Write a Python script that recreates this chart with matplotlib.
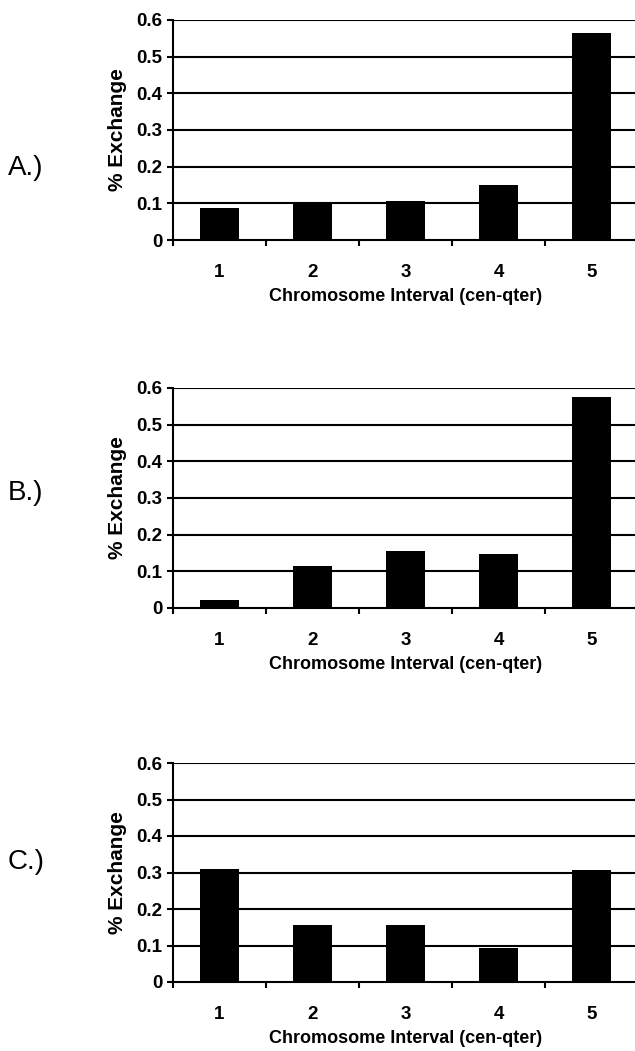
import numpy as np
import matplotlib
matplotlib.use("Agg")
import matplotlib.pyplot as plt

plt.rcParams['font.family'] = ['Liberation Sans', 'DejaVu Sans']

intervalos = [1, 2, 3, 4, 5]
troca_a = [0.088, 0.100, 0.107, 0.150, 0.564]
troca_b = [0.021, 0.115, 0.155, 0.146, 0.575]
troca_c = [0.310, 0.157, 0.155, 0.093, 0.306]
paineis = ["A.)", "B.)", "C.)"]
y_ticks = [0, 0.1, 0.2, 0.3, 0.4, 0.5, 0.6]
y_labels = ["0", "0.1", "0.2", "0.3", "0.4", "0.5", "0.6"]

W, H = 635, 1051
fig = plt.figure(figsize=(W / 100, H / 100), dpi=100)

# posicoes em pixels: (topo, base) de cada eixo, e centro do rotulo do painel
caixas = [(20, 240), (388, 608), (763, 982)]
rotulo_y = [168, 493, 862]
x_esq, x_dir = 173, 638

for dados, (topo, base), nome, ry in zip([troca_a, troca_b, troca_c], caixas, paineis, rotulo_y):
    ax = fig.add_axes([x_esq / W, 1 - base / H, (x_dir - x_esq) / W, (base - topo) / H])
    for y in y_ticks[1:]:
        ax.axhline(y, color='black', lw=1.5, zorder=1)
    ax.bar(intervalos, dados, width=0.41, color='black', zorder=3)
    ax.set_xlim(0.5, 5.5)
    ax.set_ylim(0, 0.6)
    ax.spines['top'].set_visible(False)
    ax.spines['right'].set_visible(False)
    ax.spines['left'].set_linewidth(1.5)
    ax.spines['bottom'].set_linewidth(1.5)
    ax.set_yticks(y_ticks)
    ax.set_yticklabels(y_labels, fontsize=13.5, fontweight='bold')
    ax.tick_params(axis='y', length=4.5, width=1.5, pad=3)
    ax.set_xticks(np.arange(0.5, 5.6, 1.0))
    ax.set_xticklabels([])
    ax.tick_params(axis='x', which='major', length=4.5, width=1.5, direction='out')
    ax.set_xticks(intervalos, minor=True)
    ax.set_xticklabels([str(i) for i in intervalos], minor=True, fontsize=13.5, fontweight='bold')
    ax.tick_params(axis='x', which='minor', length=0, pad=17)
    ax.set_ylabel('% Exchange', fontsize=15, fontweight='bold', labelpad=7)
    ax.set_xlabel('Chromosome Interval (cen-qter)', fontsize=13, fontweight='bold', labelpad=5)
    fig.text(8 / W, 1 - ry / H, nome, fontsize=20, ha='left', va='center')

fig.savefig('out.png', dpi=100)
